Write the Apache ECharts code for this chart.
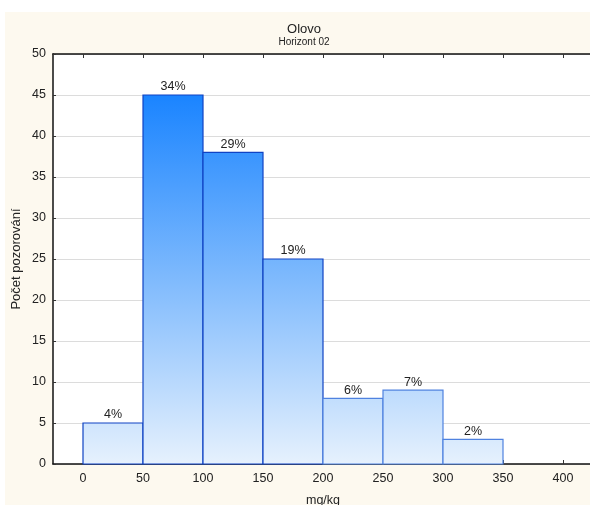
<!DOCTYPE html>
<html>
<head>
<meta charset="utf-8">
<script src="https://cdn.jsdelivr.net/npm/echarts@6/dist/echarts.min.js"></script>
<style>
  html, body { margin: 0; padding: 0; background: #ffffff; }
  #chart { width: 590px; height: 505px; }
</style>
</head>
<body>
<div id="chart"></div>
<script>
// Histogram of lead (Olovo) concentrations, horizon 02
const binStarts = [0, 50, 100, 150, 200, 250, 300];
const binEnds = [50, 100, 150, 200, 250, 300, 350];
const counts = [5, 45, 38, 25, 8, 9, 3];
const xTicks = [0, 50, 100, 150, 200, 250, 300, 350, 400];
const yTicks = [0, 5, 10, 15, 20, 25, 30, 35, 40, 45, 50];

const total = counts.reduce((a, b) => a + b, 0);
const maxCount = Math.max(...counts);
const FONT = 'Liberation Sans, Arial, sans-serif';

const chart = echarts.init(document.getElementById('chart'), null, { renderer: 'canvas' });

const option = {
  animation: false,
  backgroundColor: '#ffffff',
  graphic: [{
    type: 'rect',
    z: -10,
    silent: true,
    shape: { x: 5, y: 12, width: 600, height: 500 },
    style: { fill: '#fdf9ef' }
  }],
  title: {
    text: 'Olovo',
    subtext: 'Horizont 02',
    left: 299,
    top: 18,
    textAlign: 'center',
    itemGap: 1,
    textStyle: { fontFamily: FONT, fontSize: 13, fontWeight: 'normal', color: '#222' },
    subtextStyle: { fontFamily: FONT, fontSize: 10, color: '#222' }
  },
  grid: {
    left: 53, right: -3, top: 54, bottom: 41,
    outerBoundsMode: 'none',
    containLabel: false,
    show: true, backgroundColor: '#ffffff', borderWidth: 0
  },
  xAxis: [{
    type: 'value',
    min: -25, max: 425,
    position: 'bottom',
    name: 'mg/kg',
    nameLocation: 'middle',
    nameGap: 30,
    nameMoveOverlap: false,
    nameTextStyle: { fontFamily: FONT, fontSize: 12.5, color: '#222' },
    axisLine: { show: true, onZero: false, lineStyle: { color: '#111', width: 1.5 } },
    axisTick: {
      show: true, inside: true, length: 4,
      customValues: xTicks,
      lineStyle: { color: '#333' }
    },
    axisLabel: {
      margin: 8,
      customValues: xTicks,
      fontFamily: FONT, fontSize: 12.5, color: '#222'
    },
    splitLine: { show: false }
  }, {
    type: 'value',
    min: -25, max: 425,
    position: 'top',
    axisLine: { show: true, onZero: false, lineStyle: { color: '#111', width: 1.5 } },
    axisTick: {
      show: true, inside: true, length: 4,
      customValues: xTicks,
      lineStyle: { color: '#333' }
    },
    axisLabel: { show: false, customValues: xTicks },
    splitLine: { show: false }
  }],
  yAxis: {
    type: 'value',
    min: 0, max: 50, interval: 5,
    name: 'Počet pozorování',
    nameLocation: 'middle',
    nameGap: 30,
    nameMoveOverlap: false,
    nameTextStyle: { fontFamily: FONT, fontSize: 13, color: '#222' },
    axisLine: { show: true, onZero: false, lineStyle: { color: '#111', width: 1.5 } },
    axisTick: { show: true, inside: true, length: 3, lineStyle: { color: '#333' } },
    axisLabel: { margin: 7, fontFamily: FONT, fontSize: 12.5, color: '#222' },
    splitLine: { show: true, lineStyle: { color: '#dcdcdc', width: 1 } }
  },
  series: [{
    type: 'custom',
    xAxisIndex: 0,
    yAxisIndex: 0,
    encode: { x: [0, 1], y: 2 },
    data: binStarts.map((s, i) => [s, binEnds[i], counts[i]]),
    renderItem: function (params, api) {
      const x0 = api.value(0), x1 = api.value(1), v = api.value(2);
      const pBase = api.coord([x0, 0]);
      const pTop = api.coord([x1, v]);
      const gradTop = api.coord([0, maxCount])[1];
      const fill = new echarts.graphic.LinearGradient(0, gradTop, 0, pBase[1], [
        { offset: 0, color: '#1a84ff' },
        { offset: 0.5, color: '#7fbafd' },
        { offset: 1, color: '#e6f1fd' }
      ], true);
      const stroke = params.dataIndex < 4 ? '#1043c4' : '#4f82e0';
      const pct = Math.round(v / total * 100) + '%';
      return {
        type: 'rect',
        shape: {
          x: pBase[0], y: pTop[1],
          width: pTop[0] - pBase[0], height: pBase[1] - pTop[1]
        },
        style: { fill: fill, stroke: stroke, lineWidth: 1.2 },
        textContent: {
          style: { text: pct, fill: '#222', font: '12.5px ' + FONT }
        },
        textConfig: { position: 'top', distance: 1 }
      };
    }
  }]
};

chart.setOption(option);
</script>
</body>
</html>
